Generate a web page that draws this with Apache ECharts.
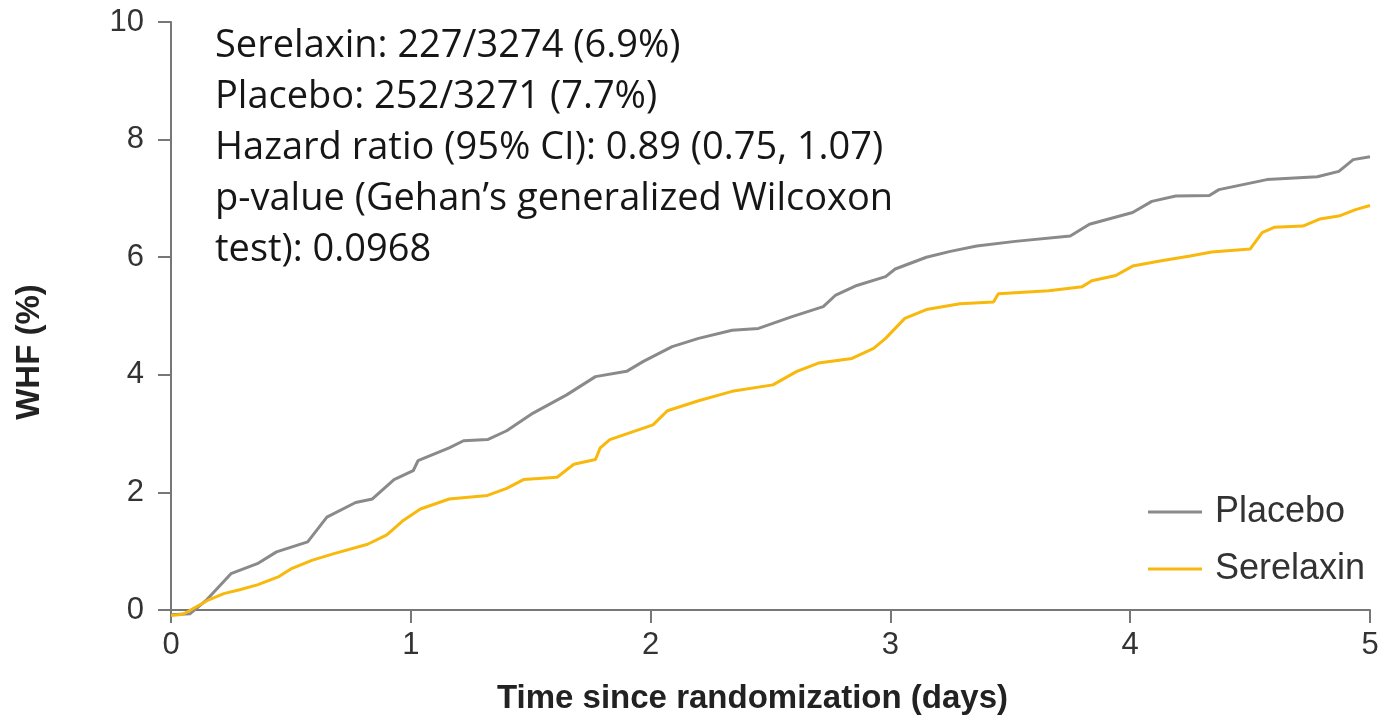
<!DOCTYPE html>
<html>
<head>
<meta charset="utf-8">
<script src="https://cdn.jsdelivr.net/npm/echarts@6/dist/echarts.min.js"></script>
<style>
html, body { margin: 0; padding: 0; background: #fff; }
#chart { width: 1393px; height: 720px; }
</style>
</head>
<body>
<div id="chart"></div>
<script>
// [days, WHF %]
var placebo = [
    [0, -0.08], [0.08, -0.06], [0.15, 0.18], [0.25, 0.62], [0.36, 0.79], [0.44, 0.99],
    [0.57, 1.16], [0.65, 1.58], [0.77, 1.83], [0.84, 1.89], [0.93, 2.22], [1.01, 2.37],
    [1.03, 2.54], [1.16, 2.76], [1.22, 2.88], [1.32, 2.9], [1.4, 3.05], [1.51, 3.35],
    [1.65, 3.66], [1.77, 3.97], [1.9, 4.06], [1.97, 4.23], [2.09, 4.48], [2.2, 4.62],
    [2.34, 4.76], [2.45, 4.79], [2.59, 4.99], [2.72, 5.16], [2.77, 5.35], [2.86, 5.52],
    [2.98, 5.67], [3.02, 5.8], [3.15, 6.0], [3.25, 6.1], [3.36, 6.19], [3.52, 6.27],
    [3.75, 6.36], [3.83, 6.56], [4.01, 6.76], [4.09, 6.95], [4.19, 7.04], [4.33, 7.05],
    [4.37, 7.15], [4.57, 7.32], [4.78, 7.37], [4.87, 7.46], [4.93, 7.66], [5.0, 7.71]
];
var serelaxin = [
    [0, -0.09], [0.05, -0.07], [0.16, 0.18], [0.22, 0.28], [0.29, 0.35], [0.36, 0.43],
    [0.45, 0.57], [0.5, 0.7], [0.59, 0.85], [0.68, 0.96], [0.82, 1.12], [0.9, 1.28],
    [0.97, 1.53], [1.04, 1.72], [1.16, 1.89], [1.32, 1.95], [1.4, 2.07], [1.47, 2.22],
    [1.61, 2.26], [1.68, 2.48], [1.77, 2.56], [1.79, 2.76], [1.83, 2.9], [2.01, 3.15],
    [2.07, 3.39], [2.2, 3.56], [2.34, 3.72], [2.51, 3.83], [2.61, 4.06], [2.7, 4.2],
    [2.84, 4.28], [2.93, 4.45], [2.98, 4.62], [3.06, 4.96], [3.15, 5.11], [3.29, 5.21],
    [3.43, 5.24], [3.45, 5.38], [3.66, 5.43], [3.8, 5.5], [3.84, 5.6], [3.94, 5.69],
    [4.01, 5.85], [4.13, 5.94], [4.25, 6.02], [4.34, 6.09], [4.5, 6.14], [4.55, 6.42],
    [4.6, 6.51], [4.72, 6.53], [4.79, 6.65], [4.87, 6.7], [4.94, 6.81], [5.0, 6.88]
];
var yTicks = [0, 2, 4, 6, 8, 10];
var notes = [
    'Serelaxin: 227/3274 (6.9%)',
    'Placebo: 252/3271 (7.7%)',
    'Hazard ratio (95% CI): 0.89 (0.75, 1.07)',
    'p-value (Gehan\u2019s generalized Wilcoxon',
    'test): 0.0968'
];

var myChart = echarts.init(document.getElementById('chart'));
var axisCol = '#777';
var option = {
    animation: false,
    grid: { left: 171, right: 23, top: 22, bottom: 100 },
    xAxis: {
        type: 'value',
        min: 0, max: 5, interval: 1,
        name: 'Time since randomization (days)',
        nameLocation: 'middle',
        nameGap: 66,
        nameTextStyle: { fontFamily: 'Liberation Sans', fontWeight: 'bold', fontSize: 33, color: '#222', padding: [0, 36, 0, 0] },
        axisLine: { lineStyle: { color: axisCol, width: 2 } },
        axisTick: { length: 13, lineStyle: { color: axisCol, width: 2 } },
        axisLabel: { fontFamily: 'Liberation Sans', fontSize: 31, color: '#333', margin: 14 },
        splitLine: { show: false }
    },
    yAxis: {
        type: 'value',
        min: -0.1, max: 10,
        name: 'WHF (%)',
        nameLocation: 'middle',
        nameGap: 125,
        nameRotate: 90,
        nameTextStyle: { fontFamily: 'Liberation Sans', fontWeight: 'bold', fontSize: 33, color: '#222', padding: [0, 66, 0, 0] },
        axisLine: { show: true, lineStyle: { color: axisCol, width: 2 } },
        axisTick: { show: true, length: 13, customValues: yTicks, lineStyle: { color: axisCol, width: 2 } },
        axisLabel: { fontFamily: 'Liberation Sans', fontSize: 31, color: '#333', margin: 27, customValues: yTicks },
        splitLine: { show: false }
    },
    legend: {
        orient: 'vertical',
        left: 1143, top: 489,
        itemWidth: 54, itemHeight: 3, itemGap: 21,
        icon: 'rect',
        textStyle: { fontFamily: 'Liberation Sans', fontSize: 36, color: '#333', padding: [0, 0, 0, 8] },
        data: ['Placebo', 'Serelaxin']
    },
    graphic: [{
        type: 'text',
        left: 215, top: 21,
        style: {
            text: notes.join('\n'),
            font: '38px "Open Sans"',
            fill: '#161616',
            lineHeight: 51
        }
    }],
    series: [
        {
            name: 'Placebo', type: 'line', data: placebo, symbol: 'none',
            lineStyle: { color: '#8a8a8a', width: 3 }, itemStyle: { color: '#8a8a8a' }
        },
        {
            name: 'Serelaxin', type: 'line', data: serelaxin, symbol: 'none',
            lineStyle: { color: '#f8b80c', width: 3 }, itemStyle: { color: '#f8b80c' }
        }
    ]
};
myChart.setOption(option);
</script>
</body>
</html>
